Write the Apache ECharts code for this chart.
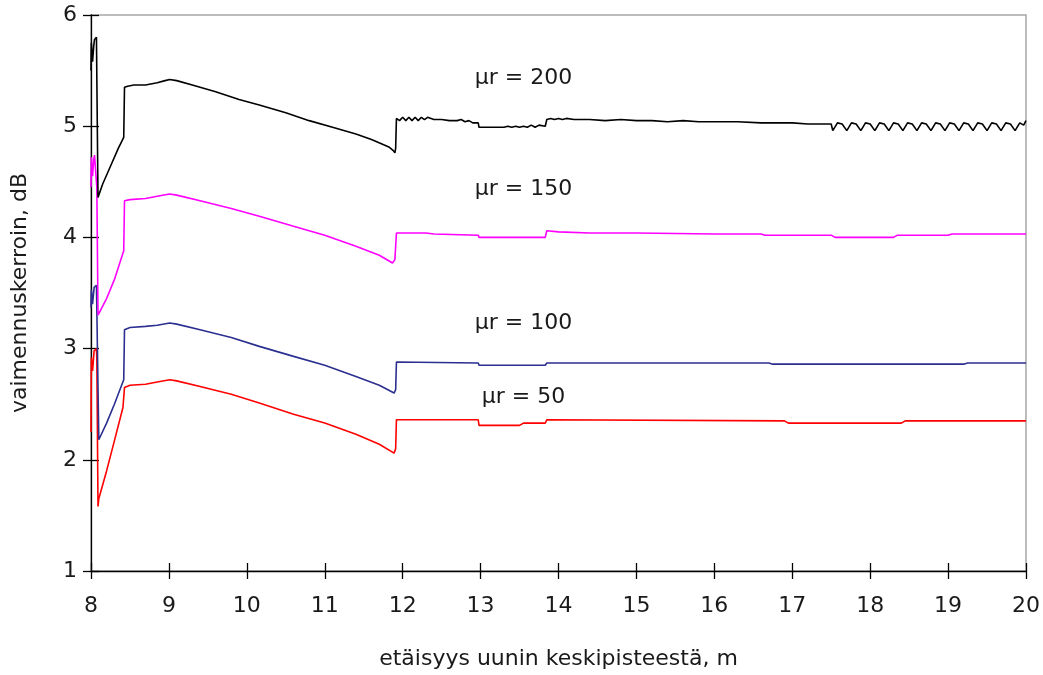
<!DOCTYPE html>
<html>
<head>
<meta charset="utf-8">
<title>Vaimennuskerroin</title>
<script src="https://cdn.jsdelivr.net/npm/echarts@6/dist/echarts.min.js"></script>
<style>
  html, body { margin: 0; padding: 0; background: #ffffff; }
  #chart { width: 1043px; height: 675px; }
</style>
</head>
<body>
<div id="chart"></div>
<script>
// Attenuation (dB) versus distance from the furnace centre (m), one curve per relative permeability
var xTicks = [8, 9, 10, 11, 12, 13, 14, 15, 16, 17, 18, 19, 20];
var yTicks = [1, 2, 3, 4, 5, 6];

var seriesNames = ['μr = 200', 'μr = 150', 'μr = 100', 'μr = 50'];
var seriesColors = ['#000000', '#ff00ff', '#2b2f8f', '#ff0000'];

var mu200 = [
  [8.00, 5.50], [8.005, 5.75], [8.02, 5.58], [8.035, 5.72], [8.045, 5.78], [8.07, 5.80],
  [8.075, 5.43], [8.085, 5.42], [8.09, 4.36],
  [8.15, 4.48], [8.25, 4.64], [8.35, 4.80], [8.42, 4.90], [8.43, 5.35], [8.47, 5.36],
  [8.55, 5.37], [8.70, 5.37], [8.85, 5.39], [8.95, 5.41], [9.01, 5.42], [9.10, 5.41],
  [9.30, 5.37], [9.60, 5.31], [9.90, 5.24], [10.16, 5.19], [10.50, 5.12], [10.80, 5.05],
  [11.10, 4.99], [11.40, 4.93], [11.60, 4.88], [11.83, 4.81], [11.88, 4.78], [11.90, 4.76],
  [11.91, 4.80], [11.92, 5.07],
  [11.96, 5.05], [12.00, 5.08], [12.04, 5.05], [12.08, 5.08], [12.12, 5.05], [12.16, 5.08],
  [12.20, 5.05], [12.24, 5.08], [12.28, 5.06], [12.32, 5.08], [12.40, 5.06], [12.50, 5.06],
  [12.60, 5.05], [12.70, 5.05], [12.75, 5.06], [12.80, 5.04], [12.85, 5.05], [12.90, 5.03],
  [12.97, 5.03], [12.98, 4.99], [13.30, 4.99], [13.35, 5.00], [13.40, 4.99], [13.45, 5.00],
  [13.50, 4.99], [13.55, 5.00], [13.60, 4.99], [13.65, 5.01], [13.70, 4.99], [13.75, 5.01],
  [13.83, 5.00], [13.85, 5.06], [13.90, 5.07], [13.95, 5.06], [14.00, 5.07], [14.05, 5.06],
  [14.10, 5.07], [14.20, 5.06], [14.40, 5.06], [14.60, 5.05], [14.80, 5.06], [15.00, 5.05],
  [15.20, 5.05], [15.40, 5.04], [15.60, 5.05], [15.80, 5.04], [16.00, 5.04], [16.30, 5.04],
  [16.60, 5.03], [16.80, 5.03], [17.00, 5.03], [17.20, 5.02], [17.40, 5.02], [17.50, 5.02],
  [17.52, 4.96], [17.58, 5.03], [17.64, 5.02],
  [17.70, 4.96], [17.76, 5.03], [17.82, 5.02],
  [17.88, 4.96], [17.94, 5.03], [18.00, 5.02],
  [18.06, 4.96], [18.12, 5.03], [18.18, 5.02],
  [18.24, 4.96], [18.30, 5.03], [18.36, 5.02],
  [18.42, 4.96], [18.48, 5.03], [18.54, 5.02],
  [18.60, 4.96], [18.66, 5.03], [18.72, 5.02],
  [18.78, 4.96], [18.84, 5.03], [18.90, 5.02],
  [18.96, 4.96], [19.02, 5.03], [19.08, 5.02],
  [19.14, 4.96], [19.20, 5.03], [19.26, 5.02],
  [19.32, 4.96], [19.38, 5.03], [19.44, 5.02],
  [19.50, 4.96], [19.56, 5.03], [19.62, 5.02],
  [19.68, 4.96], [19.74, 5.03], [19.80, 5.02],
  [19.86, 4.96], [19.92, 5.03], [19.97, 5.01], [20.00, 5.05]
];

var mu150 = [
  [8.00, 4.45], [8.005, 4.72], [8.02, 4.55], [8.035, 4.70], [8.045, 4.74], [8.07, 4.75],
  [8.075, 4.45], [8.09, 3.30], [8.20, 3.45], [8.30, 3.62], [8.42, 3.88], [8.43, 4.33],
  [8.50, 4.34], [8.70, 4.35], [8.85, 4.37], [9.01, 4.39], [9.10, 4.38], [9.40, 4.33],
  [9.80, 4.26], [10.16, 4.19], [10.60, 4.10], [11.00, 4.02], [11.40, 3.92], [11.70, 3.84],
  [11.87, 3.77], [11.90, 3.80], [11.92, 4.04], [12.30, 4.04], [12.40, 4.03], [12.97, 4.02],
  [12.98, 4.00], [13.83, 4.00], [13.85, 4.06], [14.00, 4.05], [14.40, 4.04], [15.00, 4.04],
  [16.00, 4.03], [16.60, 4.03], [16.65, 4.02], [17.50, 4.02], [17.55, 4.00], [18.30, 4.00],
  [18.35, 4.02], [19.00, 4.02], [19.05, 4.03], [20.00, 4.03]
];

var mu100 = [
  [8.00, 3.37], [8.005, 3.53], [8.02, 3.40], [8.04, 3.55], [8.07, 3.57], [8.075, 3.35],
  [8.09, 2.65], [8.10, 2.18], [8.20, 2.33], [8.30, 2.50], [8.42, 2.72], [8.43, 3.17],
  [8.50, 3.19], [8.70, 3.20], [8.85, 3.21], [9.01, 3.23], [9.10, 3.22], [9.40, 3.17],
  [9.80, 3.10], [10.16, 3.02], [10.60, 2.93], [11.00, 2.85], [11.40, 2.75], [11.70, 2.67],
  [11.89, 2.60], [11.91, 2.63], [11.92, 2.88], [12.97, 2.87], [12.98, 2.85], [13.83, 2.85],
  [13.85, 2.87], [16.70, 2.87], [16.75, 2.86], [19.20, 2.86], [19.25, 2.87], [20.00, 2.87]
];

var mu50 = [
  [8.00, 2.25], [8.005, 2.92], [8.02, 2.80], [8.04, 2.98], [8.07, 3.00], [8.075, 2.90],
  [8.09, 1.58], [8.10, 1.65], [8.20, 1.90], [8.30, 2.17], [8.41, 2.47], [8.43, 2.65],
  [8.50, 2.67], [8.70, 2.68], [8.85, 2.70], [9.01, 2.72], [9.10, 2.71], [9.40, 2.66],
  [9.80, 2.59], [10.16, 2.51], [10.60, 2.41], [11.00, 2.33], [11.40, 2.23], [11.70, 2.14],
  [11.89, 2.06], [11.91, 2.10], [11.92, 2.36], [12.97, 2.36], [12.98, 2.31], [13.50, 2.31],
  [13.55, 2.33], [13.83, 2.33], [13.85, 2.36], [16.90, 2.35], [16.95, 2.33], [18.40, 2.33],
  [18.45, 2.35], [20.00, 2.35]
];

// where each curve's name is written, in data units
var labelAnchors = [[13.55, 5.43], [13.55, 4.43], [13.55, 3.23], [13.55, 2.56]];

var allSeries = [mu200, mu150, mu100, mu50];

var FONT = 'DejaVu Sans';
var TEXT_COLOR = '#1a1a1a';

var chart = echarts.init(document.getElementById('chart'), null, { renderer: 'canvas' });

var series = allSeries.map(function (data, i) {
  return {
    name: seriesNames[i],
    type: 'line',
    data: data,
    xAxisIndex: 0,
    yAxisIndex: 0,
    showSymbol: false,
    symbol: 'none',
    smooth: false,
    lineStyle: { color: seriesColors[i], width: 1.6 },
    z: 10 - i,
    markPoint: {
      symbol: 'circle',
      symbolSize: 1,
      itemStyle: { color: 'transparent' },
      label: {
        show: true,
        position: 'inside',
        formatter: '{b}',
        color: TEXT_COLOR,
        fontFamily: FONT,
        fontSize: 22
      },
      data: [{ name: seriesNames[i], coord: labelAnchors[i] }]
    }
  };
});

var option = {
  animation: false,
  backgroundColor: '#ffffff',
  grid: {
    left: 91, right: 14, top: 15, bottom: 104,
    show: true,
    borderColor: '#a6a6a6',
    borderWidth: 1.5,
    backgroundColor: 'transparent'
  },
  xAxis: [
    {
      type: 'value',
      min: xTicks[0], max: xTicks[xTicks.length - 1], interval: 1,
      position: 'bottom',
      name: 'etäisyys uunin keskipisteestä, m',
      nameLocation: 'middle',
      nameGap: 77,
      nameTextStyle: { color: TEXT_COLOR, fontFamily: FONT, fontSize: 22 },
      axisLine: { show: true, lineStyle: { color: '#000000', width: 1.3 } },
      axisTick: { show: true, inside: false, length: 8, lineStyle: { color: '#000000', width: 1.3 } },
      axisLabel: { color: TEXT_COLOR, fontFamily: FONT, fontSize: 22, margin: 24 },
      splitLine: { show: false }
    },
    {
      // inner half of the crossing tick marks
      type: 'value',
      min: xTicks[0], max: xTicks[xTicks.length - 1], interval: 1,
      position: 'bottom',
      axisLine: { show: false },
      axisTick: { show: true, inside: true, length: 8, lineStyle: { color: '#000000', width: 1.3 } },
      axisLabel: { show: false },
      splitLine: { show: false }
    }
  ],
  yAxis: [
    {
      type: 'value',
      min: yTicks[0], max: yTicks[yTicks.length - 1], interval: 1,
      position: 'left',
      name: 'vaimennuskerroin, dB',
      nameLocation: 'middle',
      nameGap: 60,
      nameRotate: 90,
      nameTextStyle: { color: TEXT_COLOR, fontFamily: FONT, fontSize: 22 },
      axisLine: { show: true, lineStyle: { color: '#000000', width: 1.3 } },
      axisTick: { show: true, inside: false, length: 8, lineStyle: { color: '#000000', width: 1.3 } },
      axisLabel: { color: TEXT_COLOR, fontFamily: FONT, fontSize: 22, margin: 14 },
      splitLine: { show: false }
    },
    {
      type: 'value',
      min: yTicks[0], max: yTicks[yTicks.length - 1], interval: 1,
      position: 'left',
      axisLine: { show: false },
      axisTick: { show: true, inside: true, length: 8, lineStyle: { color: '#000000', width: 1.3 } },
      axisLabel: { show: false },
      splitLine: { show: false }
    }
  ],
  series: series
};

chart.setOption(option);
</script>
</body>
</html>
